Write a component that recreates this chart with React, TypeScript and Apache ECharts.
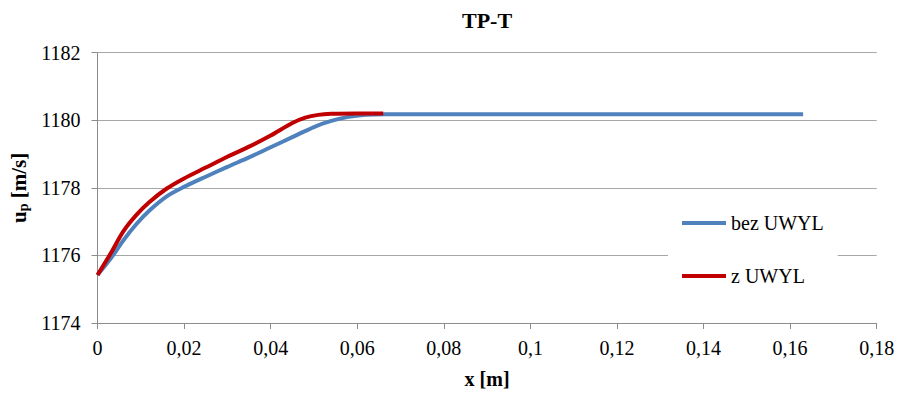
import React, { useEffect, useRef } from "react";
import * as echarts from "echarts";

const xBez = [0, 0.003, 0.006, 0.009, 0.012, 0.016, 0.02, 0.025, 0.03, 0.035, 0.04, 0.045, 0.05, 0.054, 0.058, 0.062, 0.066, 0.08, 0.1, 0.12, 0.14, 0.163];
const yBez = [1175.42, 1175.9, 1176.45, 1176.93, 1177.33, 1177.75, 1178.03, 1178.33, 1178.62, 1178.9, 1179.2, 1179.5, 1179.8, 1179.98, 1180.1, 1180.16, 1180.18, 1180.18, 1180.18, 1180.18, 1180.18, 1180.18];

const xZ = [0, 0.003, 0.006, 0.009, 0.012, 0.016, 0.02, 0.025, 0.03, 0.035, 0.04, 0.045, 0.048, 0.051, 0.054, 0.06, 0.066];
const yZ = [1175.42, 1176.05, 1176.72, 1177.2, 1177.58, 1177.98, 1178.28, 1178.6, 1178.92, 1179.22, 1179.55, 1179.92, 1180.08, 1180.16, 1180.19, 1180.2, 1180.2];

const seriesNames = ["bez UWYL", "z UWYL"];
const titleText = "TP-T";
const xName = "x [m]";

const FONT = "'Liberation Serif', 'Times New Roman', serif";

export default function App() {
  const ref = useRef<HTMLDivElement>(null);
  useEffect(() => {
    if (!ref.current) return;
    const chart = echarts.init(ref.current, undefined, { renderer: "svg" });
    const fmtX = (v: number) => Number(v.toFixed(2)).toString().replace(".", ",");
    chart.setOption({
      animation: false,
      backgroundColor: "#fff",
      textStyle: { fontFamily: FONT },
      title: {
        text: titleText,
        left: 462,
        top: 9,
        padding: 0,
        textStyle: { fontFamily: FONT, fontWeight: "bold", fontSize: 22, color: "#000" },
      },
      grid: { left: 97.5, right: 21.3, top: 52.7, bottom: 68, containLabel: false },
      legend: {
        orient: "vertical",
        left: 668,
        top: 200,
        padding: [12, 14, 12, 14],
        backgroundColor: "#fff",
        itemWidth: 44,
        itemHeight: 4,
        itemGap: 31,
        icon: "rect",
        textStyle: { fontFamily: FONT, fontSize: 20, color: "#000", lineHeight: 22 },
        data: seriesNames,
      },
      xAxis: {
        type: "value",
        min: 0,
        max: 0.18,
        interval: 0.02,
        name: xName,
        nameLocation: "middle",
        nameGap: 46,
        nameTextStyle: { fontFamily: FONT, fontWeight: "bold", fontSize: 20, color: "#000" },
        axisLine: { lineStyle: { color: "#8c8c8c", width: 1 } },
        axisTick: { show: true, length: 6, lineStyle: { color: "#8c8c8c" } },
        axisLabel: { formatter: fmtX, fontFamily: FONT, fontSize: 20, color: "#000", margin: 15 },
        splitLine: { show: false },
      },
      yAxis: {
        type: "value",
        min: 1174,
        max: 1182,
        interval: 2,
        name: "{b|u}{s|p}{b| [m/s]}",
        nameLocation: "middle",
        nameRotate: 90,
        nameGap: 62,
        nameTextStyle: {
          fontFamily: FONT,
          color: "#000",
          rich: {
            b: { fontFamily: FONT, fontWeight: "bold", fontSize: 21, color: "#000" },
            s: { fontFamily: FONT, fontWeight: "bold", fontSize: 14, color: "#000", verticalAlign: "bottom", padding: [8, 0, 0, 0] },
          },
        },
        axisLine: { show: true, lineStyle: { color: "#8c8c8c", width: 1 } },
        axisTick: { show: true, length: 6, lineStyle: { color: "#8c8c8c" } },
        axisLabel: { formatter: (v: number) => String(v), fontFamily: FONT, fontSize: 20, color: "#000", margin: 17 },
        splitLine: { show: true, lineStyle: { color: "#a6a6a6", width: 1 } },
      },
      series: [
        {
          name: seriesNames[0],
          type: "line",
          data: xBez.map((x, i) => [x, yBez[i]]),
          smooth: 0.3,
          showSymbol: false,
          lineStyle: { color: "#4f81bd", width: 4 },
          itemStyle: { color: "#4f81bd" },
          z: 2,
        },
        {
          name: seriesNames[1],
          type: "line",
          data: xZ.map((x, i) => [x, yZ[i]]),
          smooth: 0.3,
          showSymbol: false,
          lineStyle: { color: "#c00000", width: 4 },
          itemStyle: { color: "#c00000" },
          z: 3,
        },
      ],
    });
    return () => chart.dispose();
  }, []);
  return <div ref={ref} style={{ width: 898, height: 394, position: "absolute", left: 0, top: 0 }} />;
}
